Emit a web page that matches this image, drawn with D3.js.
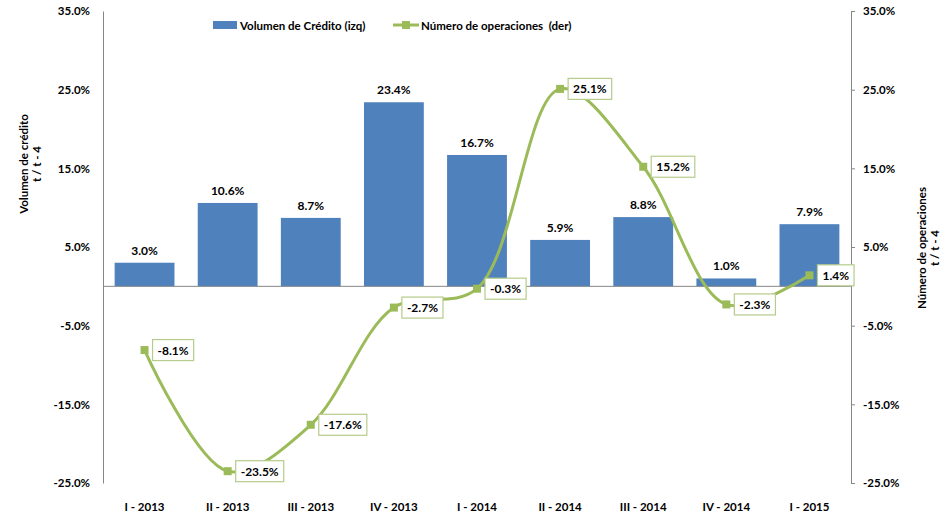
<!DOCTYPE html>
<html>
<head>
<meta charset="utf-8">
<script src="https://cdn.jsdelivr.net/npm/d3@7"></script>
<style>
  body { margin: 0; background: #fff; }
  text { font-family: Lato, "Open Sans", sans-serif; font-weight: bold; fill: #000; }
</style>
</head>
<body>
<div id="chart"></div>
<script>
var width = 949;
var height = 514;

var categories = ["I - 2013", "II - 2013", "III - 2013", "IV - 2013", "I - 2014", "II - 2014", "III - 2014", "IV - 2014", "I - 2015"];
var volumen = [3.0, 10.6, 8.7, 23.4, 16.7, 5.9, 8.8, 1.0, 7.9];
var operaciones = [-8.1, -23.5, -17.6, -2.7, -0.3, 25.1, 15.2, -2.3, 1.4];
var ticks = [35, 25, 15, 5, -5, -15, -25];

var blue = "#4f81bd";
var green = "#9bbb59";
var grey = "#868686";

var svg = d3.select("#chart")
  .append("svg")
    .attr("width", width)
    .attr("height", height);

var x = d3.scaleBand()
  .domain(categories)
  .range([103, 851])
  .paddingInner(0.28)
  .paddingOuter(0.14);

var yL = d3.scaleLinear().domain([-25, 35]).range([483, 11]);
var yR = d3.scaleLinear().domain([-25, 35]).range([483, 11]);

var fmt = function(v) { return v.toFixed(1) + "%"; };
var cx = function(c) { return x(c) + x.bandwidth() / 2; };

// left axis
var axL = svg.append("g")
  .attr("transform", "translate(103,0)")
  .call(d3.axisLeft(yL).tickValues(ticks).tickSize(0).tickPadding(13).tickFormat(fmt));
axL.select(".domain").attr("stroke", grey);
axL.selectAll("text").style("font-size", "11.5px").style("font-family", "Lato, sans-serif");

// right axis
var axR = svg.append("g")
  .attr("transform", "translate(851,0)")
  .call(d3.axisRight(yR).tickValues(ticks).tickSize(4).tickPadding(8).tickFormat(fmt));
axR.select(".domain").attr("stroke", grey);
axR.selectAll("line").attr("stroke", grey);
axR.selectAll("text").style("font-size", "11.5px").style("font-family", "Lato, sans-serif");

// bars
svg.selectAll("rect.bar")
  .data(volumen)
  .enter()
    .append("rect")
      .attr("class", "bar")
      .attr("x", function(d, i) { return x(categories[i]); })
      .attr("width", x.bandwidth())
      .attr("y", function(d) { return yL(Math.max(d, 0)); })
      .attr("height", function(d) { return Math.abs(yL(d) - yL(0)); })
      .attr("fill", blue);

svg.selectAll("text.barlab")
  .data(volumen)
  .enter()
    .append("text")
      .attr("class", "barlab")
      .attr("x", function(d, i) { return cx(categories[i]); })
      .attr("y", function(d) { return yL(d) - 8; })
      .attr("text-anchor", "middle")
      .style("font-size", "12px")
      .text(fmt);

// zero line
svg.append("line")
  .attr("x1", 103).attr("x2", 851)
  .attr("y1", yL(0)).attr("y2", yL(0))
  .attr("stroke", grey);

// category labels
svg.selectAll("text.cat")
  .data(categories)
  .enter()
    .append("text")
      .attr("class", "cat")
      .attr("x", function(d) { return cx(d); })
      .attr("y", 511)
      .attr("text-anchor", "middle")
      .style("font-size", "11.5px")
      .text(function(d) { return d; });

// line series
var line = d3.line()
  .x(function(d, i) { return cx(categories[i]); })
  .y(function(d) { return yR(d); })
  .curve(d3.curveCatmullRom.alpha(0.5));

svg.append("path")
  .datum(operaciones)
  .attr("d", line)
  .attr("fill", "none")
  .attr("stroke", green)
  .attr("stroke-width", 3);

svg.selectAll("rect.mk")
  .data(operaciones)
  .enter()
    .append("rect")
      .attr("class", "mk")
      .attr("x", function(d, i) { return cx(categories[i]) - 4; })
      .attr("y", function(d) { return yR(d) - 4; })
      .attr("width", 8)
      .attr("height", 8)
      .attr("fill", green);

var lab = svg.selectAll("g.oplab")
  .data(operaciones)
  .enter()
    .append("g")
      .attr("class", "oplab")
      .attr("transform", function(d, i) { return "translate(" + (cx(categories[i]) + 8) + "," + yR(d) + ")"; });

lab.append("text")
  .attr("x", 5)
  .attr("y", 4.5)
  .style("font-size", "12px")
  .text(fmt);

lab.insert("rect", "text")
  .attr("x", 0)
  .attr("y", -10.5)
  .attr("height", 21)
  .attr("width", function() { return this.parentNode.querySelector("text").getComputedTextLength() + 10; })
  .attr("fill", "#fff")
  .attr("stroke", "#b5cc8a")
  .attr("stroke-width", 1.2);

// axis titles
var tl = svg.append("text")
  .attr("transform", "translate(28,164) rotate(-90)")
  .attr("text-anchor", "middle")
  .style("font-size", "11.5px");
tl.append("tspan").attr("x", 0).attr("dy", 0).text("Volumen de crédito");
tl.append("tspan").attr("x", 0).attr("dy", 13).text("t / t - 4");

var tr = svg.append("text")
  .attr("transform", "translate(926,248) rotate(-90)")
  .attr("text-anchor", "middle")
  .style("font-size", "11.5px");
tr.append("tspan").attr("x", 0).attr("dy", 0).text("Número de operaciones");
tr.append("tspan").attr("x", 0).attr("dy", 13).text("t / t - 4");

// legend
var leg = svg.append("g");
leg.append("rect")
  .attr("x", 213).attr("y", 21).attr("width", 24).attr("height", 8)
  .attr("fill", blue);
leg.append("text")
  .attr("x", 240).attr("y", 30)
  .style("font-size", "11.5px")
  .text("Volumen de Crédito (izq)");
leg.append("line")
  .attr("x1", 393).attr("x2", 419).attr("y1", 25).attr("y2", 25)
  .attr("stroke", green).attr("stroke-width", 3);
leg.append("rect")
  .attr("x", 402).attr("y", 21).attr("width", 8).attr("height", 8)
  .attr("fill", green);
leg.append("text")
  .attr("x", 421).attr("y", 30)
  .style("font-size", "11.5px")
  .text("Número de operaciones  (der)")
  .attr("xml:space", "preserve");
</script>
</body>
</html>
